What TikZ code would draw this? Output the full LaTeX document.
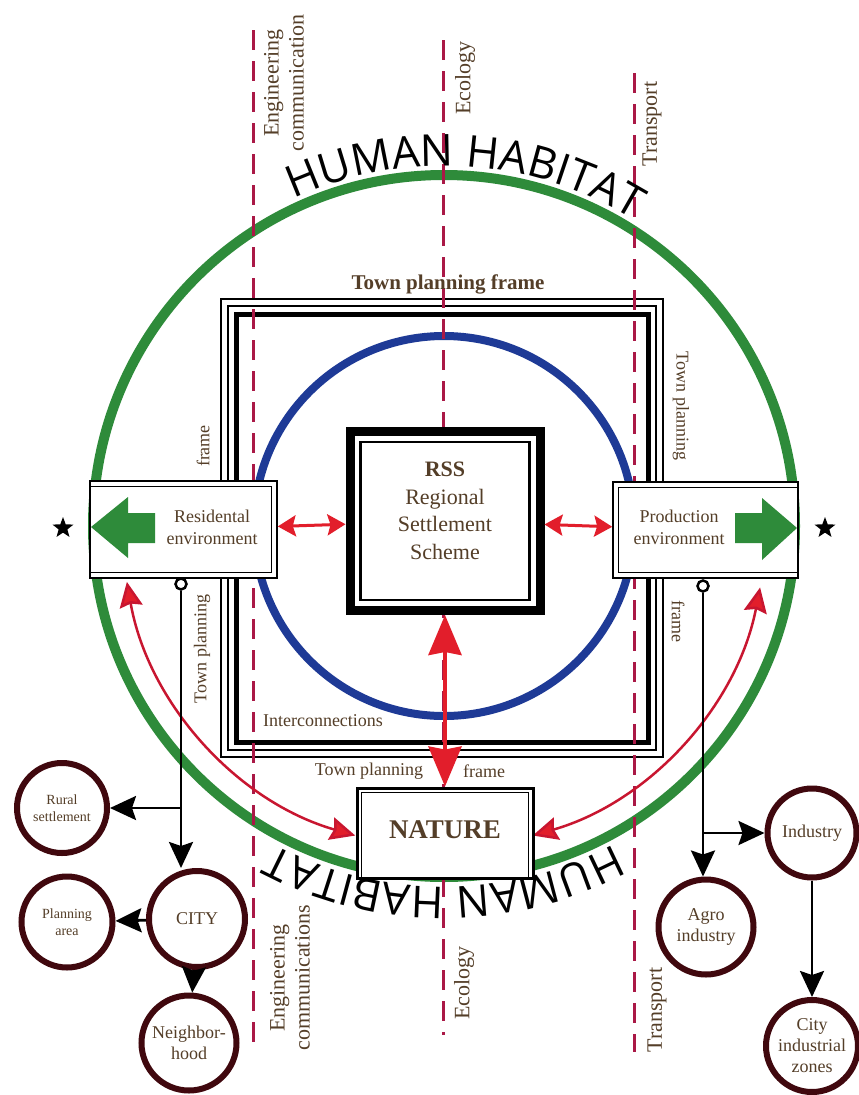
\documentclass[tikz,border=0pt]{standalone}
\usepackage{fontspec}
\setmainfont{Liberation Serif}
\newfontfamily\habfont{Open Sans}
\usetikzlibrary{arrows.meta,shapes.geometric,decorations.text}

\definecolor{habgreen}{RGB}{46,139,58}
\definecolor{ringblue}{RGB}{30,58,150}
\definecolor{axisred}{RGB}{170,24,70}
\definecolor{relred}{RGB}{226,30,43}
\definecolor{arcred}{RGB}{200,22,48}
\definecolor{txtbrown}{RGB}{84,62,40}
\definecolor{ringred}{RGB}{64,8,14}

\tikzset{
  habitat/.style={draw=habgreen,line width=10pt},
  ring/.style={draw=ringblue,line width=8pt},
  axisline/.style={draw=axisred,line width=3pt,dash pattern=on 20pt off 11pt},
  envbox/.style={draw,line width=1.6pt,fill=white,inner sep=0pt},
  lbl/.style={text=txtbrown,align=center,inner sep=0pt,font=\fontsize{18}{22}\selectfont},
  axislbl/.style={lbl,rotate=90,font=\fontsize{22}{25}\selectfont},
  sub/.style={circle,draw=ringred,line width=6pt,fill=white,inner sep=0pt,align=center,text=txtbrown,font=\fontsize{18}{21}\selectfont},
  link/.style={line width=2.8pt,-{Stealth[length=26pt,width=24pt,inset=4pt]}},
  relarrow/.style={draw=relred,line width=3pt,{Stealth[length=18pt,width=21pt,inset=3pt]}-{Stealth[length=18pt,width=21pt,inset=3pt]}},
  relarc/.style={draw=arcred,line width=2.5pt,{Stealth[length=25pt,width=23pt,inset=3pt,fill=relred]}-{Stealth[length=25pt,width=23pt,inset=3pt,fill=relred]}},
  arrowgreen/.style={fill=habgreen},
  mark star/.style={star,star points=5,star point ratio=2.4,fill,minimum size=22pt,inner sep=0pt}
}

\begin{document}
\begin{tikzpicture}[x=1pt,y=-1pt]
  \useasboundingbox[fill=white] (0,0) rectangle (859,1095);
  \coordinate (hab) at (444,526);

  \draw[habitat] (hab) circle[radius=351pt];
  \draw[ring] (hab) circle[radius=190pt];

  \draw[line width=1.8pt] (221,299) rectangle (663,757);
  \draw[line width=1.8pt] (228,306) rectangle (656,750);
  \draw[line width=5pt] (236,314) rectangle (648,742);

  \draw[axisline] (253,30) -- (253,1048);
  \draw[axisline] (443,40) -- (443,1035);
  \draw[axisline] (634,73) -- (634,1052);

  \draw[relarc] ([shift={(190:322pt)}]hab) arc[start angle=190,end angle=254,radius=322pt];
  \draw[relarc] ([shift={(-11:322pt)}]hab) arc[start angle=-11,end angle=-74,radius=322pt];

  \node[envbox,minimum width=187,minimum height=97] (res) at (183.5,529.5) {};
  \draw[line width=1.2pt] ([yshift=-6pt]res.north west) -| ([shift={(-6pt,6pt)}]res.south east) -- ([yshift=6pt]res.south west);
  \fill[arrowgreen] (91,527) -- (128,497) -- (128,513) -- (155,513) -- (155,543) -- (128,543) -- (128,558) -- cycle;
  \node[lbl] (restext) at (212,527) {Residental\\environment};

  \node[envbox,minimum width=185,minimum height=96] (prod) at (705.5,530) {};
  \draw[line width=1.2pt] ([yshift=-6pt]prod.north east) -| ([shift={(6pt,6pt)}]prod.south west) -- ([yshift=6pt]prod.south east);
  \fill[arrowgreen] (797,528) -- (762,498) -- (762,513) -- (735,513) -- (735,543) -- (762,543) -- (762,560) -- cycle;
  \node[lbl] (prodtext) at (679,527) {Production\\environment};

  \node[mark star] (starl) at (63,528) {};
  \node[mark star] (starr) at (825,528) {};

  \node[draw,line width=5pt,fill=white,minimum width=194,minimum height=183,inner sep=0pt] (rss) at (445,521) {};
  \draw[line width=4pt] ([shift={(7pt,-7pt)}]rss.north west) rectangle ([shift={(-7pt,7pt)}]rss.south east);
  \draw[line width=2.4pt] ([shift={(15pt,-15pt)}]rss.north west) rectangle ([shift={(-15pt,15pt)}]rss.south east);
  \node[lbl,font=\fontsize{22}{27.5}\selectfont] (rsstext) at (445,511) {\textbf{RSS}\\Regional\\Settlement\\Scheme};

  \node[draw,line width=3pt,fill=white,minimum width=176,minimum height=90,inner sep=0pt] (nature) at (445,833) {};
  \draw[line width=1.2pt] ([xshift=6pt]nature.south west) |- ([shift={(-6pt,-6pt)}]nature.north east) -- ([xshift=-6pt]nature.south east);
  \node[lbl,font=\bfseries\fontsize{27}{30}\selectfont] (naturetext) at (445,830) {NATURE};

  \draw[relarrow] (res) -- (rss);
  \draw[relarrow] (rss) -- (prod);
  \draw[draw=relred,line width=4pt,{Stealth[length=40pt,width=33pt,inset=3pt]}-{Stealth[length=40pt,width=33pt,inset=3pt]}] (rss) -- (nature);

  \node[lbl,font=\bfseries\fontsize{21}{23}\selectfont] (tpftop) at (448,284) {Town planning frame};
  \node[lbl,rotate=-90] (tpright) at (681,406) {Town planning};
  \node[lbl,rotate=-90] (frright) at (678,621) {frame};
  \node[lbl,rotate=90] (frleft) at (203,446) {frame};
  \node[lbl,rotate=90] (tpleft) at (202,649) {Town planning};
  \node[lbl] (inter) at (323,721) {Interconnections};
  \node[lbl] (tpbot) at (369,771) {Town planning};
  \node[lbl] (frbot) at (484,771) {frame};

  \node[axislbl] (engtop) at (284,83) {Engineering\\communication};
  \node[axislbl] (ecotop) at (465,78) {Ecology};
  \node[axislbl] (trtop) at (652,124) {Transport};
  \node[axislbl] (engbot) at (290,978) {Engineering\\communications};
  \node[axislbl] (ecobot) at (464,983) {Ecology};
  \node[axislbl] (trbot) at (657,1010) {Transport};

  \path[decorate,decoration={text along path,text align=center,
    text={|\habfont\fontsize{44}{48}\selectfont|HUMAN HABITAT}}]
    ([shift={(146.5:360pt)}]hab) arc[start angle=146.5,end angle=26.5,radius=360pt];
  \path[decorate,decoration={text along path,text align=center,
    text={|\habfont\fontsize{44}{48}\selectfont|HUMAN HABITAT}}]
    ([shift={(-30:361pt)}]hab) arc[start angle=-30,end angle=-150,radius=361pt];

  \node[sub,minimum size=90,font=\fontsize{14}{16.5}\selectfont] (rural) at (62,808) {Rural\\settlement};
  \node[sub,minimum size=91,font=\fontsize{14}{16.5}\selectfont] (plan) at (67,922) {Planning\\area};
  \node[sub,minimum size=96] (city) at (197,919) {CITY};
  \node[sub,minimum size=95] (neigh) at (189,1043) {Neighbor-\\hood};
  \node[sub,minimum size=89] (industry) at (812,833) {Industry};
  \node[sub,minimum size=95] (agro) at (706,927) {Agro\\industry};
  \node[sub,minimum size=92] (cityind) at (812,1046) {City\\industrial\\zones};

  \node[circle,draw,line width=2.5pt,fill=white,minimum size=11,inner sep=0pt] (resdot) at (181,584) {};
  \node[circle,draw,line width=2.5pt,fill=white,minimum size=11,inner sep=0pt] (proddot) at (703,586) {};
  \coordinate (rbranch) at (resdot |- rural);
  \coordinate (ibranch) at (proddot |- industry);

  \draw[link] (resdot) -- (resdot |- city.north);
  \draw[link] (rbranch) -- (rural);
  \draw[link] (city) -- (plan);
  \draw[link] (city) -- (neigh);
  \draw[link] (proddot) -- (proddot |- agro.north);
  \draw[link] (ibranch) -- (industry);
  \draw[link] (industry) -- (cityind);
\end{tikzpicture}
\end{document}
